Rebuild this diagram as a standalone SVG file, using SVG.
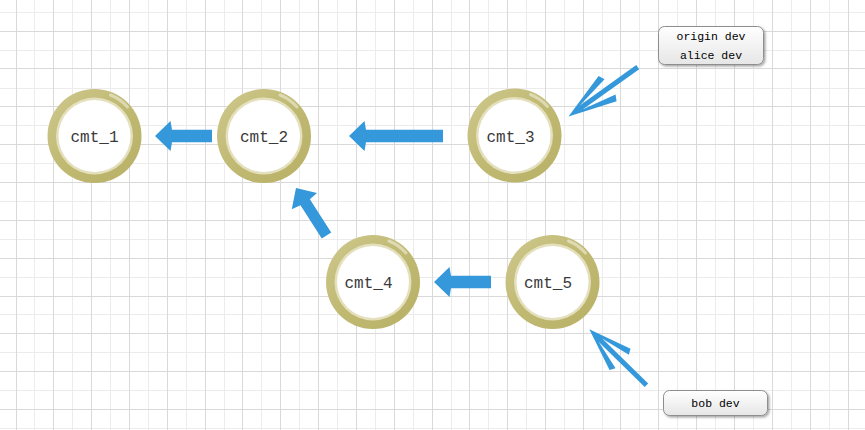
<svg xmlns="http://www.w3.org/2000/svg" width="865" height="430" viewBox="0 0 865 430">
<style>
.minor{stroke:#ececec;stroke-width:1;fill:none}
.major{stroke:#d9d9d9;stroke-width:1;fill:none}
.ring{fill:url(#ringGrad)}
.rim{fill:#e4e0bd}
.core{fill:#ffffff}
.gloss{fill:none;stroke:#ffffff;stroke-opacity:.45;stroke-width:3;stroke-linecap:round}
.nlbl{font-family:"Liberation Mono","DejaVu Sans Mono",monospace;font-size:16px;fill:#3a3a3a;text-anchor:middle}
.fat{fill:#3498db}
.thin{fill:#3498db}
.shaft{stroke:#3498db;stroke-width:5;fill:none}
.box{fill:url(#boxGrad);stroke:#8e8e8e;stroke-width:1;filter:url(#shadow)}
.blbl{font-family:"Liberation Mono","DejaVu Sans Mono",monospace;font-size:11.5px;fill:#000;text-anchor:middle}
</style>
<defs>
<linearGradient id="ringGrad" x1="0" y1="0" x2="1" y2="1">
<stop offset="0" stop-color="#cec88e"/>
<stop offset="0.5" stop-color="#c0b972"/>
<stop offset="1" stop-color="#b8b066"/>
</linearGradient>
<linearGradient id="boxGrad" x1="0" y1="0" x2="0" y2="1">
<stop offset="0" stop-color="#ffffff"/>
<stop offset="1" stop-color="#e6e6e6"/>
</linearGradient>
<filter id="shadow" x="-10%" y="-20%" width="130%" height="160%">
<feDropShadow dx="1.5" dy="1.5" stdDeviation="1" flood-color="#000" flood-opacity="0.35"/>
</filter>
</defs>
<rect width="865" height="430" fill="#ffffff"/>
<g id="grid">
<path class="minor" d="M34.5 0V430M72.5 0V430M110.5 0V430M148.5 0V430M186.5 0V430M224.5 0V430M261.5 0V430M299.5 0V430M337.5 0V430M375.5 0V430M413.5 0V430M451.5 0V430M488.5 0V430M526.5 0V430M564.5 0V430M602.5 0V430M639.5 0V430M677.5 0V430M715.5 0V430M753.5 0V430M791.5 0V430M829.5 0V430M0 12.5H865M0 50.5H865M0 88.5H865M0 125.5H865M0 163.5H865M0 201.5H865M0 239.5H865M0 277.5H865M0 314.5H865M0 352.5H865M0 390.5H865M0 428.5H865"/>
<path class="major" d="M16.5 0V430M53.5 0V430M91.5 0V430M129.5 0V430M167.5 0V430M205.5 0V430M242.5 0V430M280.5 0V430M318.5 0V430M356.5 0V430M394.5 0V430M432.5 0V430M469.5 0V430M507.5 0V430M545.5 0V430M583.5 0V430M620.5 0V430M658.5 0V430M696.5 0V430M734.5 0V430M772.5 0V430M810.5 0V430M848.5 0V430M0 31.5H865M0 68.5H865M0 106.5H865M0 144.5H865M0 182.5H865M0 220.5H865M0 258.5H865M0 296.5H865M0 333.5H865M0 371.5H865M0 409.5H865"/>
</g>
<g id="connectors">
<path class="fat" transform="translate(155,136)" d="M0 0L15.5 -15L17 -6.3H57V6.3H17L15.5 15Z"/>
<path class="fat" transform="translate(349,136)" d="M0 0L15.5 -15L17 -6.3H94V6.3H17L15.5 15Z"/>
<path class="fat" transform="translate(434,282)" d="M0 0L15.5 -15L17 -6.3H57V6.3H17L15.5 15Z"/>
<path class="fat" transform="translate(296,188) rotate(57.3)" d="M0 0L15.5 -15L17 -5.6H56.5V5.6H17L15.5 15Z"/>
<g transform="translate(568.5,116.5) rotate(-35.5)">
<path class="shaft" d="M10 0H85"/>
<path class="thin" d="M0 0L48 -15.5L51 -9.5L16 -2.5V2.5L51 9.5L48 15.5Z"/>
</g>
<g transform="translate(589.3,329.3) rotate(44.4)">
<path class="shaft" d="M10 0H80"/>
<path class="thin" d="M0 0L43 -15L46 -9.5L16 -2.5V2.5L46 9.5L43 15Z"/>
</g>
</g>
<g id="node-cmt_1" transform="translate(94.5,136)">
<circle class="ring" r="47"/><circle class="rim" r="38.5"/><circle class="core" r="36"/>
<path class="gloss" d="M16 -41A44 44 0 0 1 33 -29"/>
</g>
<text class="nlbl" x="94.5" y="141.5">cmt_1</text>
<g id="node-cmt_2" transform="translate(264,136)">
<circle class="ring" r="47"/><circle class="rim" r="38.5"/><circle class="core" r="36"/>
<path class="gloss" d="M16 -41A44 44 0 0 1 33 -29"/>
</g>
<text class="nlbl" x="264" y="141.5">cmt_2</text>
<g id="node-cmt_3" transform="translate(514.5,135.5)">
<circle class="ring" r="47"/><circle class="rim" r="38.5"/><circle class="core" r="36"/>
<path class="gloss" d="M16 -41A44 44 0 0 1 33 -29"/>
</g>
<text class="nlbl" x="510.5" y="142">cmt_3</text>
<g id="node-cmt_4" transform="translate(373,282)">
<circle class="ring" r="47"/><circle class="rim" r="38.5"/><circle class="core" r="36"/>
<path class="gloss" d="M16 -41A44 44 0 0 1 33 -29"/>
</g>
<text class="nlbl" x="368.5" y="288">cmt_4</text>
<g id="node-cmt_5" transform="translate(552.5,282)">
<circle class="ring" r="47"/><circle class="rim" r="38.5"/><circle class="core" r="36"/>
<path class="gloss" d="M16 -41A44 44 0 0 1 33 -29"/>
</g>
<text class="nlbl" x="548" y="288">cmt_5</text>
<g id="label-origin-alice">
<rect class="box" x="658.5" y="26.5" width="105" height="38" rx="6"/>
<text class="blbl" x="711" y="39.5">origin dev</text>
<text class="blbl" x="711" y="58.5">alice dev</text>
</g>
<g id="label-bob">
<rect class="box" x="663.5" y="390.5" width="104" height="25" rx="6"/>
<text class="blbl" x="715.5" y="406.5">bob dev</text>
</g>
</svg>
